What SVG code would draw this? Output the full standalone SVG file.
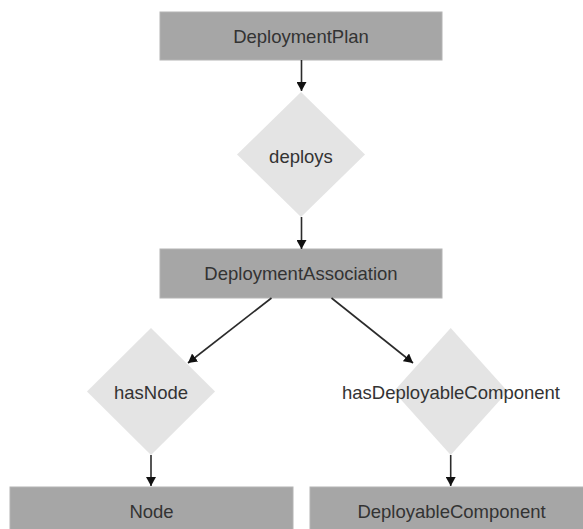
<svg xmlns="http://www.w3.org/2000/svg" width="583" height="529" viewBox="0 0 583 529">
<style>
.box{fill:#a6a6a6;stroke:#b4b4b4;stroke-width:1}
.dia{fill:#e4e4e4}
.lbl{font-family:"Liberation Sans",Arial,sans-serif;font-size:18.5px;fill:#333;text-anchor:middle;dominant-baseline:central}
.edge{stroke:#2b2b2b;stroke-width:1.6;fill:none;marker-end:url(#ah)}
</style>
<defs>
<marker id="ah" viewBox="0 0 9 10" refX="9" refY="5" markerWidth="9" markerHeight="10" markerUnits="userSpaceOnUse" orient="auto">
<path d="M0,0 L9,5 L0,10 z" fill="#111"/>
</marker>
</defs>
<rect width="583" height="529" fill="#fff"/>
<g id="DeploymentPlan">
<rect class="box" x="160" y="12" width="282" height="48"/>
<text class="lbl" x="301" y="36">DeploymentPlan</text>
</g>
<g id="deploys">
<polygon class="dia" points="301,92 365,154.5 301,217 237,154.5"/>
<text class="lbl" x="301" y="156">deploys</text>
</g>
<g id="DeploymentAssociation">
<rect class="box" x="160" y="249" width="282" height="49"/>
<text class="lbl" x="301" y="273">DeploymentAssociation</text>
</g>
<g id="hasNode">
<polygon class="dia" points="151,328 215,391.5 151,455 87,391.5"/>
<text class="lbl" x="151" y="392">hasNode</text>
</g>
<g id="hasDeployableComponent">
<polygon class="dia" points="450.7,328 507.7,391.5 450.7,455 393.7,391.5"/>
<text class="lbl" x="451" y="392">hasDeployableComponent</text>
</g>
<g id="Node">
<rect class="box" x="10" y="487" width="283" height="48"/>
<text class="lbl" x="151.5" y="511">Node</text>
</g>
<g id="DeployableComponent">
<rect class="box" x="310" y="487" width="283" height="48"/>
<text class="lbl" x="451.5" y="511">DeployableComponent</text>
</g>
<g id="connectors">
<line class="edge" x1="301.5" y1="60" x2="301.5" y2="91"/>
<line class="edge" x1="301.5" y1="217" x2="301.5" y2="249"/>
<line class="edge" x1="271.5" y1="298" x2="188" y2="363"/>
<line class="edge" x1="331.5" y1="298" x2="413" y2="363"/>
<line class="edge" x1="151" y1="455" x2="151" y2="486"/>
<line class="edge" x1="450.7" y1="455" x2="450.7" y2="486"/>
</g>
</svg>
